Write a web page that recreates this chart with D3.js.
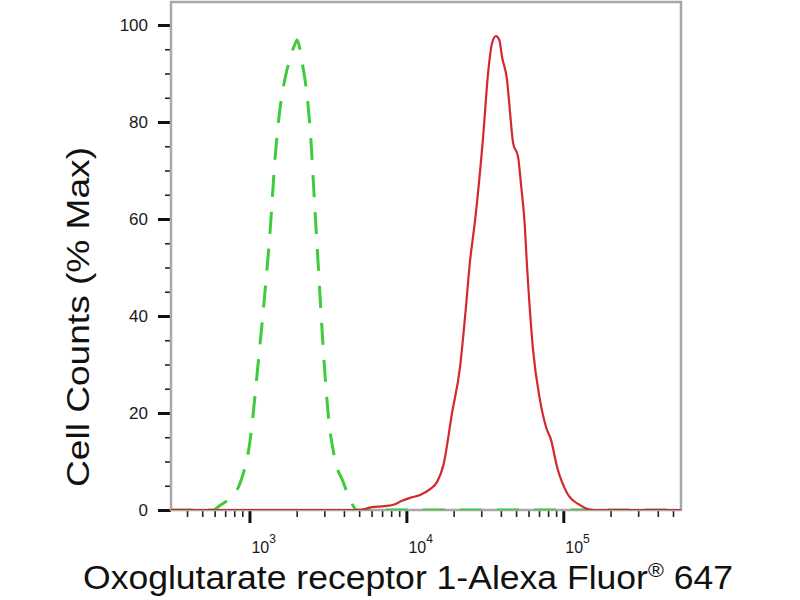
<!DOCTYPE html>
<html>
<head>
<meta charset="utf-8">
<script src="https://cdn.jsdelivr.net/npm/d3@7"></script>
<style>
    body { margin: 0; background: #fff; }
    svg { display: block; font-family: "Liberation Sans", Arial, sans-serif; }
</style>
</head>
<body>
<svg id="chart" width="800" height="600"></svg>
<script>
// isotype control (green, dashed)
const controlIntensity = [316, 588, 651, 733, 873, 1010, 1136, 1259, 1355, 1458, 1570, 1688, 1817, 1930, 2013,
    2167, 2333, 2438, 2621, 2739, 2947, 3170, 3513, 3953, 4375, 4850, 562000];
const controlCounts = [0, 0, 1.0, 2.1, 5.6, 14.4, 30.3, 45.4, 57.7, 72.8, 83.1, 89.1, 93.2, 95.7, 96.9,
    92.2, 85.2, 78.4, 61.2, 50.9, 33.6, 20.0, 10.3, 5.8, 2.1, 0, 0];

// antibody stained (red)
const stainedIntensity = [316, 5070, 6000, 7300, 8450, 9400, 10560, 12220, 14160, 15700, 17200, 19540, 21980,
    23650, 25400, 27420, 30820, 33170, 35170, 37230, 39100, 40710, 43780, 45790, 47850, 51480, 53960, 56500,
    58770, 64150, 71000, 77600, 83600, 91200, 105600, 127700, 154500, 562000];
const stainedCounts = [0, 0, 0.6, 0.8, 1.2, 1.9, 2.5, 3.1, 4.3, 5.8, 9.2, 20.0, 29.5,
    39.8, 51.1, 59.8, 76.9, 90.1, 96.3, 97.7, 96.9, 93.4, 88.7, 81.9, 75.7, 72.8, 66.6, 59.8,
    50.1, 33.0, 22.7, 17.1, 14.4, 8.9, 3.5, 1.0, 0, 0];

const yMajorTicks = [0, 20, 40, 60, 80, 100];
const xMajorTicks = [1e3, 1e4, 1e5];
const xTickExponents = ["3", "4", "5"];

const xTitle = "Oxoglutarate receptor 1-Alexa Fluor";
const yTitle = "Cell Counts (% Max)";

const svg = d3.select("#chart");

const plot = { left: 171, right: 681, top: 2, bottom: 510 };

const x = d3.scaleLog()
    .domain([Math.pow(10, 2.5), Math.pow(10, 5.75)])
    .range([plot.left, plot.right]);
const y = d3.scaleLinear()
    .domain([0, 100])
    .range([plot.bottom, 25]);

svg.append("clipPath")
    .attr("id", "plot-clip")
    .append("rect")
    .attr("x", plot.left)
    .attr("y", plot.top)
    .attr("width", plot.right - plot.left)
    .attr("height", plot.bottom - plot.top);

// minor ticks
const yMinor = d3.range(0, 101, 5).filter((d) => d % 20 !== 0);
const xMinor = [];
[2, 3, 4, 5].forEach((e) => {
    for (let k = 2; k <= 9; k++) {
        const v = k * Math.pow(10, e);
        if (v > x.domain()[0] && v < x.domain()[1]) xMinor.push(v);
    }
});

const yMinorAxis = svg.append("g")
    .attr("transform", `translate(${plot.left},0)`)
    .call(d3.axisLeft(y).tickValues(yMinor).tickSize(6).tickFormat(""));
yMinorAxis.selectAll(".tick line").attr("stroke", "#222").attr("stroke-width", 1.6);

const yAxis = svg.append("g")
    .attr("transform", `translate(${plot.left},0)`)
    .call(d3.axisLeft(y).tickValues(yMajorTicks).tickSize(13).tickPadding(10));
yAxis.selectAll(".tick line").attr("stroke", "#111").attr("stroke-width", 3);
yAxis.selectAll(".tick text")
    .attr("fill", "#1a1a1a")
    .style("font-size", "17px");

const xMinorAxis = svg.append("g")
    .attr("transform", `translate(0,${plot.bottom})`)
    .call(d3.axisBottom(x).tickValues(xMinor).tickSize(7).tickFormat(""));
xMinorAxis.selectAll(".tick line").attr("stroke", "#222").attr("stroke-width", 1.6);

const xAxis = svg.append("g")
    .attr("transform", `translate(0,${plot.bottom})`)
    .call(d3.axisBottom(x).tickValues(xMajorTicks).tickSize(13).tickFormat(""));
xAxis.selectAll(".tick line").attr("stroke", "#111").attr("stroke-width", 3);

svg.selectAll(".domain").remove();

// 10^n labels
const xLabels = svg.append("g")
    .selectAll("text")
    .data(xMajorTicks)
    .enter()
    .append("text")
    .attr("x", (d) => x(d) + 2)
    .attr("y", 553)
    .attr("fill", "#1a1a1a")
    .style("font-size", "16px");
xLabels.append("tspan").text("10");
xLabels.append("tspan")
    .attr("dy", -10)
    .style("font-size", "12px")
    .text((d, i) => xTickExponents[i]);

// frame
svg.append("rect")
    .attr("x", plot.left)
    .attr("y", plot.top)
    .attr("width", plot.right - plot.left)
    .attr("height", plot.bottom - plot.top)
    .attr("fill", "none")
    .attr("stroke", "#a8a8a8")
    .attr("stroke-width", 2.5);

const line = d3.line()
    .x((d) => x(d[0]))
    .y((d) => y(d[1]))
    .curve(d3.curveMonotoneX);

const curves = svg.append("g").attr("clip-path", "url(#plot-clip)");

curves.append("path")
    .datum(d3.zip(controlIntensity, controlCounts))
    .attr("d", line)
    .attr("fill", "none")
    .attr("stroke", "#3ccc3c")
    .attr("stroke-width", 3)
    .attr("stroke-dasharray", "22,15");

curves.append("path")
    .datum(d3.zip(stainedIntensity, stainedCounts))
    .attr("d", line)
    .attr("fill", "none")
    .attr("stroke", "#d4282e")
    .attr("stroke-width", 2.2);

// axis titles
svg.append("text")
    .attr("transform", "translate(89,317) rotate(-90)")
    .attr("text-anchor", "middle")
    .attr("textLength", 340)
    .attr("lengthAdjust", "spacingAndGlyphs")
    .attr("fill", "#111")
    .style("font-size", "32px")
    .text(yTitle);

const xt = svg.append("text")
    .attr("x", 83)
    .attr("y", 589)
    .attr("textLength", 650)
    .attr("lengthAdjust", "spacingAndGlyphs")
    .attr("fill", "#111")
    .style("font-size", "33px");
xt.append("tspan").text(xTitle);
xt.append("tspan")
    .attr("dy", -12)
    .style("font-size", "20px")
    .text("®");
xt.append("tspan")
    .attr("dy", 12)
    .text(" 647");
</script>
</body>
</html>
